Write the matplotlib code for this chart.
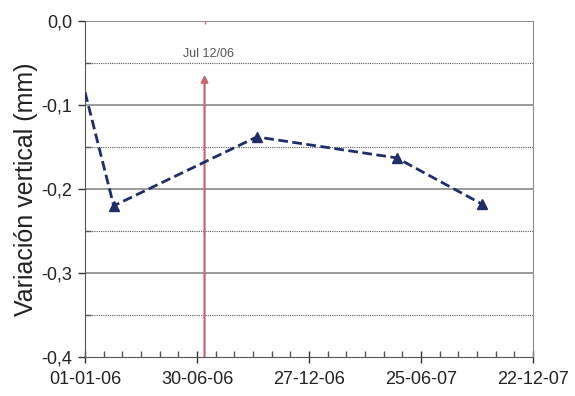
import matplotlib
matplotlib.use('Agg')
import matplotlib.pyplot as plt
import matplotlib.dates as mdates
from matplotlib.ticker import FixedLocator, FuncFormatter
import numpy as np
from datetime import datetime, timedelta

plt.rcParams['font.family'] = ['Liberation Sans', 'DejaVu Sans']

# data
dates = ['2006-01-01', '2006-02-16', '2006-10-04', '2007-05-17', '2007-10-01']
values = [-0.085, -0.220, -0.138, -0.163, -0.218]
event_date = '2006-07-12'
event_label = 'Jul 12/06'
y_label = 'Variación vertical (mm)'

x_start = datetime(2006, 1, 1)
x_end = datetime(2007, 12, 22)

xd = [datetime.strptime(d, '%Y-%m-%d') for d in dates]
ev = datetime.strptime(event_date, '%Y-%m-%d')

fig = plt.figure(figsize=(5.75, 3.96), dpi=100)
ax = fig.add_axes([0.148, 0.0985, 0.779, 0.8485])

# grid: solid at 0.1 steps, dotted at the halves
for y in [0.0, -0.1, -0.2, -0.3]:
    ax.axhline(y, color='#7f7f7f', lw=1.3 if y == 0 else 1.1, zorder=1)
for y in [-0.05, -0.15, -0.25, -0.35]:
    ax.axhline(y, color='#555555', lw=0.8, ls=(0, (1, 1)), zorder=1)

ax.plot(xd, values, color='#1f2d6b', lw=2, ls=(0, (3.5, 1.6)),
        marker='^', markersize=7, markevery=[1, 2, 3, 4], zorder=3)

# event arrow
ax.annotate('', xy=(ev, -0.064), xytext=(ev, -0.4),
            arrowprops=dict(arrowstyle='-|>', color='#c8676a', lw=1.6,
                            mutation_scale=10, shrinkA=0, shrinkB=0), zorder=2)
ax.plot([ev], [0.0], marker='|', color='#d07070', markersize=5, zorder=4)
ax.text(ev + timedelta(days=6), -0.046, event_label, fontsize=9, color='#555555',
        ha='center', va='bottom')

ax.set_xlim(x_start, x_end)
ax.set_ylim(-0.4, 0.0)

major = [mdates.date2num(x_start + timedelta(days=180 * i)) for i in range(5)]
minor = [mdates.date2num(x_start + timedelta(days=30 * i)) for i in range(25)]
ax.xaxis.set_major_locator(FixedLocator(major))
ax.xaxis.set_minor_locator(FixedLocator(minor))
ax.xaxis.set_major_formatter(mdates.DateFormatter('%d-%m-%y'))

ax.set_yticks([0.0, -0.1, -0.2, -0.3, -0.4])
ax.set_yticks([-0.05, -0.15, -0.25, -0.35], minor=True)
ax.yaxis.set_major_formatter(FuncFormatter(lambda v, p: ('%.1f' % v).replace('.', ',').replace('-0,0', '0,0')))

ax.tick_params(axis='x', which='major', direction='inout', length=8, width=1, labelsize=13, pad=6, colors='#333333')
ax.tick_params(axis='x', which='minor', direction='in', length=4, width=1, colors='#555555')
ax.tick_params(axis='y', which='major', direction='out', length=5, width=1, labelsize=13, pad=4, colors='#333333')
ax.tick_params(axis='y', which='minor', direction='in', length=4, width=1, colors='#555555')
for lab in ax.get_xticklabels() + ax.get_yticklabels():
    lab.set_color('#222222')

ax.spines['top'].set_visible(False)
ax.spines['right'].set_color('#8c8c8c')
ax.spines['left'].set_color('#555555')
ax.spines['bottom'].set_color('#555555')

ax.set_ylabel(y_label, fontsize=18, color='#222222', labelpad=3)

fig.savefig('out.png', dpi=100)
